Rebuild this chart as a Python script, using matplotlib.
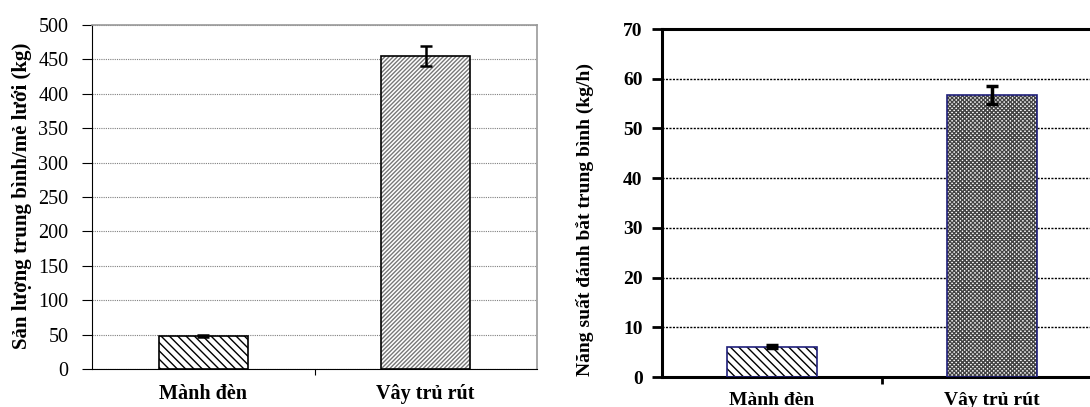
import matplotlib.pyplot as plt
import numpy as np

categories = ['Mành đèn', 'Vây trủ rút']

catch_kg = [48, 455]
catch_err = [2, 14]

cpue_kgh = [6.1, 56.7]
cpue_err = [0.3, 1.8]

left_ticks = [0, 50, 100, 150, 200, 250, 300, 350, 400, 450, 500]
right_ticks = [0, 10, 20, 30, 40, 50, 60, 70]

plt.rcParams['font.family'] = ['Liberation Serif', 'DejaVu Serif']
plt.rcParams['hatch.linewidth'] = 1.0

W, H = 1090, 407
fig = plt.figure(figsize=(W / 100, H / 100), dpi=100)


def px_axes(x0, x1, y0, y1):
    return fig.add_axes([x0 / W, (H - y1) / H, (x1 - x0) / W, (y1 - y0) / H])


x = np.arange(len(categories))

# left panel: catch per haul
ax1 = px_axes(92, 537, 25, 369)
ax1.bar(x[:1], catch_kg[:1], width=0.4, facecolor='white', edgecolor='black',
        hatch='\\\\\\\\', linewidth=1.2, zorder=2)
ax1.bar(x[1:], catch_kg[1:], width=0.4, facecolor='white', edgecolor='#777777',
        hatch='////////', linewidth=0, zorder=2)
ax1.bar(x[1:], catch_kg[1:], width=0.4, facecolor='none', edgecolor='black',
        linewidth=1.2, zorder=3)
ax1.errorbar(x, catch_kg, yerr=catch_err, fmt='none', ecolor='black',
             elinewidth=1.8, capsize=4, capthick=1.8, zorder=4)
ax1.set_xlim(-0.5, 1.5)
ax1.set_ylim(0, 500)
ax1.set_yticks(left_ticks)
ax1.set_xticks([0.5])
ax1.set_xticklabels([''])
ax1.tick_params(axis='x', length=4, direction='out', width=0.8)
ax1.tick_params(axis='y', length=7, direction='out', labelsize=14.5, width=0.8, pad=10)
ax1.grid(axis='y', color='#7f7f7f', linestyle=(0, (1, 1)), linewidth=0.8, zorder=0)
ax1.set_axisbelow(True)
for s in ['top', 'right']:
    ax1.spines[s].set_color('#999999')
    ax1.spines[s].set_linewidth(1.2)
for s in ['left', 'bottom']:
    ax1.spines[s].set_color('black')
    ax1.spines[s].set_linewidth(0.8)
for xi, name in zip(x, categories):
    ax1.annotate(name, (xi, 0), xycoords=('data', 'axes fraction'),
                 xytext=(0, -11), textcoords='offset points', ha='center',
                 va='top', fontsize=14.5, fontweight='bold')
fig.text(22 / W, 1 - 196 / H, 'Sản lượng trung bình/mẻ lưới (kg)', rotation=90,
         ha='center', va='center', fontsize=15, fontweight='bold')

# right panel: catch per hour
ax2 = px_axes(662, 1102, 29, 377)
ax2.bar(x[:1], cpue_kgh[:1], width=0.41, facecolor='white', edgecolor='black',
        hatch='\\\\\\\\', linewidth=0, zorder=2)
ax2.bar(x[1:], cpue_kgh[1:], width=0.41, facecolor='white', edgecolor='#444444',
        hatch='xxxxxxxx', linewidth=0, zorder=2)
ax2.bar(x, cpue_kgh, width=0.41, facecolor='none', edgecolor='#1f1f7a',
        linewidth=1.2, zorder=3)
ax2.errorbar(x, cpue_kgh, yerr=cpue_err, fmt='none', ecolor='black',
             elinewidth=2.5, capsize=4, capthick=2.5, zorder=4)
ax2.set_xlim(-0.5, 1.5)
ax2.set_ylim(0, 70)
ax2.set_yticks(right_ticks)
ax2.set_xticks([0.5])
ax2.set_xticklabels([''])
ax2.tick_params(axis='x', length=5, direction='out', width=2)
ax2.tick_params(axis='y', length=7, direction='out', labelsize=14, width=2, pad=7)
for lbl in ax2.get_yticklabels():
    lbl.set_fontweight('bold')
ax2.grid(axis='y', color='black', linestyle=(0, (1.5, 1)), linewidth=1.0, zorder=0)
ax2.set_axisbelow(True)
ax2.spines['right'].set_visible(False)
for s in ['top', 'left', 'bottom']:
    ax2.spines[s].set_color('black')
    ax2.spines[s].set_linewidth(2.2)
for xi, name in zip(x, categories):
    ax2.annotate(name, (xi, 0), xycoords=('data', 'axes fraction'),
                 xytext=(0, -10.5), textcoords='offset points', ha='center',
                 va='top', fontsize=14, fontweight='bold')
fig.text(585 / W, 1 - 220 / H, 'Năng suất đánh bắt trung bình (kg/h)', rotation=90,
         ha='center', va='center', fontsize=14, fontweight='bold')

fig.savefig('out.png', dpi=100)
